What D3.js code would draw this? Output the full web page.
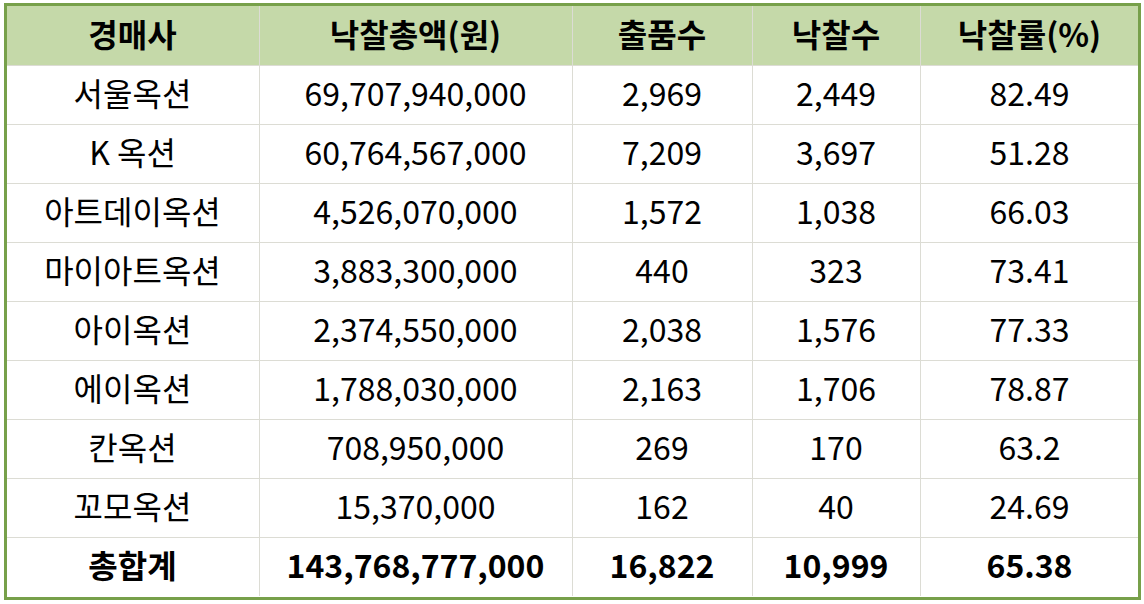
<!DOCTYPE html>
<html><head><meta charset="utf-8">
<style>body{margin:0;background:#fff}</style></head>
<body>
<svg width="1144" height="604"></svg>
<script src="https://d3js.org/d3.v7.min.js"></script>
<script>
var headers = ["경매사", "낙찰총액(원)", "출품수", "낙찰수", "낙찰률(%)"];
var houses = ["서울옥션", "K 옥션", "아트데이옥션", "마이아트옥션", "아이옥션", "에이옥션", "칸옥션", "꼬모옥션"];
var totals = [69707940000, 60764567000, 4526070000, 3883300000, 2374550000, 1788030000, 708950000, 15370000];
var lots = [2969, 7209, 1572, 440, 2038, 2163, 269, 162];
var sold = [2449, 3697, 1038, 323, 1576, 1706, 170, 40];
var rates = ["82.49", "51.28", "66.03", "73.41", "77.33", "78.87", "63.2", "24.69"];
var sumRow = ["총합계", "143,768,777,000", "16,822", "10,999", "65.38"];

var fmt = d3.format(",");
var rows = houses.map(function(h, i) {
  return [h, fmt(totals[i]), fmt(lots[i]), fmt(sold[i]), rates[i]];
});
rows.push(sumRow);

var svg = d3.select("svg");
var colEdges = [6, 259, 572, 752, 920, 1139];
// note: "top" is taken by window.top, so use tableTop
var tableTop = 5, headH = 60, rowH = 59;

var font = "'Noto Sans CJK KR', 'Noto Sans', sans-serif";

// header background
svg.append("rect").attr("x", 6).attr("y", tableTop).attr("width", 1133).attr("height", headH).attr("fill", "#c5d9a9");

// grid lines
var g = svg.append("g").attr("stroke", "#dcdcd4").attr("stroke-width", 1);
colEdges.slice(1, -1).forEach(function(x) {
  g.append("line").attr("x1", x + 0.5).attr("x2", x + 0.5).attr("y1", tableTop).attr("y2", tableTop + headH + rowH * rows.length);
});
d3.range(rows.length).forEach(function(i) {
  var y = tableTop + headH + i * rowH;
  g.append("line").attr("x1", 6).attr("x2", 1139).attr("y1", y + 0.5).attr("y2", y + 0.5);
});

function writeRow(cells, yc, bold) {
  cells.forEach(function(t, j) {
    svg.append("text")
      .attr("x", (colEdges[j] + colEdges[j + 1]) / 2)
      .attr("y", yc)
      .attr("dy", "0.36em")
      .attr("text-anchor", "middle")
      .attr("font-family", font)
      .attr("font-size", 32)
      .attr("font-weight", bold ? "bold" : "normal")
      .attr("fill", "#000")
      .text(t);
  });
}
writeRow(headers, tableTop + headH / 2, true);
rows.forEach(function(r, i) {
  writeRow(r, tableTop + headH + i * rowH + rowH / 2, i === rows.length - 1);
});

// outer border
svg.append("rect").attr("x", 5.5).attr("y", 4.5).attr("width", 1134).attr("height", 594)
  .attr("fill", "none").attr("stroke", "#77a04a").attr("stroke-width", 3);
</script>
</body></html>
